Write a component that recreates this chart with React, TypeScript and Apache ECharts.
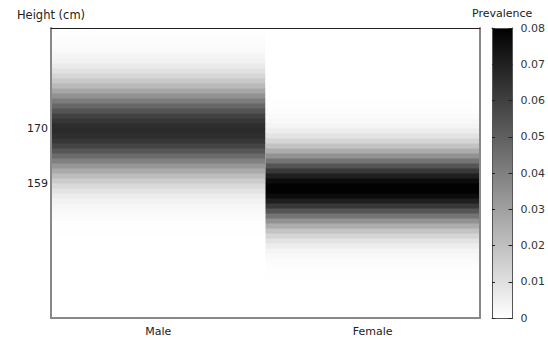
import React, { useEffect, useRef } from "react";
import * as echarts from "echarts";

const sexes = ["Male", "Female"];
const heightTicks = [170, 159];
const colorbarTicks = [0, 0.01, 0.02, 0.03, 0.04, 0.05, 0.06, 0.07, 0.08];

// height bins (cm), each bin covers [h, h+1)
const heights = [
  132, 133, 134, 135, 136, 137, 138, 139, 140, 141, 142, 143, 144, 145, 146, 147, 148, 149, 150, 151,
  152, 153, 154, 155, 156, 157, 158, 159, 160, 161, 162, 163, 164, 165, 166, 167, 168, 169, 170, 171,
  172, 173, 174, 175, 176, 177, 178, 179, 180, 181, 182, 183, 184, 185, 186, 187, 188, 189,
];

const malePrevalence = [
  0, 0, 0, 0, 0, 0, 0, 0, 0, 0, 0, 0.0001, 0.0001, 0.0001, 0.0001, 0.0001, 0.0001, 0.0002, 0.0004, 0.0007,
  0.0011, 0.0018, 0.0028, 0.0042, 0.0061, 0.0087, 0.012, 0.0161, 0.0211, 0.0267, 0.033, 0.0397, 0.0463, 0.0526, 0.0582, 0.0626, 0.0654, 0.0665, 0.0658, 0.0632,
  0.0592, 0.0538, 0.0477, 0.041, 0.0343, 0.028, 0.0221, 0.0171, 0.0128, 0.0093, 0.0066, 0.0045, 0.003, 0.002, 0.0012, 0.0008, 0.0005, 0.0003,
];

const femalePrevalence = [
  0, 0, 0, 0, 0, 0, 0, 0, 0.0002, 0.0004, 0.0007, 0.0012, 0.0021, 0.0035, 0.0057, 0.0088, 0.0131, 0.0188, 0.0259, 0.0343,
  0.0436, 0.0532, 0.0625, 0.0704, 0.0763, 0.0794, 0.0794, 0.0763, 0.0704, 0.0625, 0.0532, 0.0436, 0.0343, 0.0259, 0.0188, 0.0131, 0.0088, 0.0057, 0.0035, 0.0021,
  0.0012, 0.0007, 0.0004, 0.0002, 0, 0, 0, 0, 0, 0, 0, 0, 0, 0, 0, 0, 0, 0,
];

const FONT = "DejaVu Sans";

export default function App() {
  const ref = useRef<HTMLDivElement>(null);

  useEffect(() => {
    if (!ref.current) return;
    const chart = echarts.init(ref.current, null, { renderer: "svg" });

    const cells: number[][] = [];
    heights.forEach((h, i) => {
      cells.push([0, h, malePrevalence[i]]);
      cells.push([1, h, femalePrevalence[i]]);
    });

    const hMin = heights[0];
    const hMax = heights[heights.length - 1] + 1;

    const option: any = {
      animation: false,
      backgroundColor: "#ffffff",
      textStyle: { fontFamily: FONT },
      grid: [
        { left: 51, top: 28, width: 429, height: 290, show: false },
        { left: 492, top: 28, width: 21, height: 290, show: false },
      ],
      xAxis: [
        {
          type: "category",
          gridIndex: 0,
          data: sexes,
          position: "bottom",
          z: 10,
          axisLine: { show: true, lineStyle: { color: "#888", width: 2 } },
          axisTick: { show: false },
          axisLabel: { color: "#222", fontSize: 11, fontFamily: FONT, margin: 8 },
          splitLine: { show: false },
        },
        {
          type: "category",
          gridIndex: 0,
          data: sexes,
          position: "top",
          z: 10,
          axisLine: { show: true, lineStyle: { color: "#222", width: 1 } },
          axisTick: { show: false },
          axisLabel: { show: false },
          splitLine: { show: false },
        },
        {
          type: "value",
          gridIndex: 1,
          min: 0,
          max: 1,
          position: "bottom",
          z: 10,
          axisLine: { show: true, onZero: false, lineStyle: { color: "#555", width: 1 } },
          axisTick: { show: false },
          axisLabel: { show: false },
          splitLine: { show: false },
        },
        {
          type: "value",
          gridIndex: 1,
          min: 0,
          max: 1,
          position: "top",
          z: 10,
          axisLine: { show: true, onZero: false, lineStyle: { color: "#555", width: 1 } },
          axisTick: { show: false },
          axisLabel: { show: false },
          splitLine: { show: false },
        },
      ],
      yAxis: [
        {
          type: "value",
          gridIndex: 0,
          min: hMin,
          max: hMax,
          position: "left",
          z: 10,
          name: "Height (cm)",
          nameLocation: "end",
          nameGap: 7,
          nameTextStyle: { color: "#222", fontSize: 11.5, fontFamily: FONT, align: "center" },
          axisLine: { show: true, onZero: false, lineStyle: { color: "#888", width: 2 } },
          axisTick: { show: false },
          axisLabel: { color: "#222", fontSize: 11, fontFamily: FONT, margin: 3, customValues: heightTicks },
          splitLine: { show: false },
        },
        {
          type: "value",
          gridIndex: 0,
          min: hMin,
          max: hMax,
          position: "right",
          z: 10,
          axisLine: { show: true, onZero: false, lineStyle: { color: "#888", width: 2 } },
          axisTick: { show: false },
          axisLabel: { show: false },
          splitLine: { show: false },
        },
        {
          type: "value",
          gridIndex: 1,
          min: 0,
          max: 0.08,
          interval: 0.01,
          position: "right",
          z: 10,
          axisLine: { show: true, onZero: false, lineStyle: { color: "#555", width: 1 } },
          axisTick: { show: true, inside: true, length: 4, lineStyle: { color: "#222" } },
          axisLabel: {
            color: "#333",
            fontSize: 11,
            fontFamily: FONT,
            margin: 8,
            customValues: colorbarTicks,
            formatter: (v: number) => (v === 0 ? "0" : v.toFixed(2)),
          },
          splitLine: { show: false },
        },
        {
          type: "value",
          gridIndex: 1,
          min: 0,
          max: 0.08,
          interval: 0.01,
          position: "left",
          z: 10,
          axisLine: { show: true, onZero: false, lineStyle: { color: "#555", width: 1 } },
          axisTick: { show: true, inside: true, length: 3, lineStyle: { color: "#222" } },
          axisLabel: { show: false },
          splitLine: { show: false },
        },
      ],
      visualMap: {
        type: "continuous",
        show: false,
        min: 0,
        max: 0.08,
        dimension: 2,
        seriesIndex: 0,
        inRange: { color: ["#ffffff", "#000000"] },
      },
      graphic: [
        {
          type: "text",
          left: 472,
          top: 8,
          style: { text: "Prevalence", fill: "#222", font: `11px '${FONT}'` },
        },
      ],
      series: [
        {
          type: "custom",
          xAxisIndex: 0,
          yAxisIndex: 0,
          z: 1,
          data: cells,
          encode: { x: 0, y: 1 },
          renderItem: (params: any, api: any) => {
            const xi = api.value(0);
            const h = api.value(1);
            const p0 = api.coord([xi, h]);
            const p1 = api.coord([xi, h + 1]);
            const w = api.size([1, 0])[0];
            return {
              type: "rect",
              shape: { x: p0[0] - w / 2, y: p1[1], width: w, height: p0[1] - p1[1] + 0.6 },
              style: { fill: api.visual("color") },
            };
          },
        },
        {
          type: "custom",
          xAxisIndex: 2,
          yAxisIndex: 2,
          z: 1,
          data: [[0, 0.08]],
          renderItem: (params: any, api: any) => {
            const top = api.coord([0, 0.08]);
            const bottom = api.coord([1, 0]);
            return {
              type: "rect",
              shape: { x: top[0], y: top[1], width: bottom[0] - top[0], height: bottom[1] - top[1] },
              style: {
                fill: new echarts.graphic.LinearGradient(0, 0, 0, 1, [
                  { offset: 0, color: "#000000" },
                  { offset: 1, color: "#ffffff" },
                ]),
              },
            };
          },
        },
      ],
    };

    chart.setOption(option);
    return () => chart.dispose();
  }, []);

  return (
    <div
      ref={ref}
      style={{ position: "fixed", left: 0, top: 0, width: 548, height: 340 }}
    />
  );
}
